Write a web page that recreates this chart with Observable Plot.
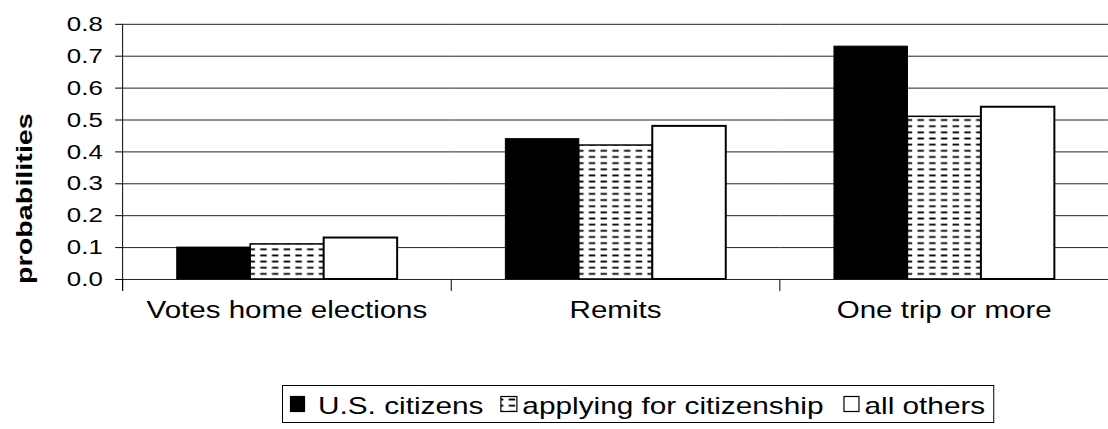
<!DOCTYPE html>
<html><head><meta charset="utf-8">
<script src="https://cdn.jsdelivr.net/npm/d3@7"></script>
<script src="https://cdn.jsdelivr.net/npm/@observablehq/plot@0.6"></script>
<style>
body{margin:0;background:#fff;width:1108px;height:429px;overflow:hidden;position:relative;font-family:"Liberation Sans",Arial,sans-serif;}
#chart{position:absolute;left:0;top:0;width:1108px;height:360px;overflow:hidden}
#legend{position:absolute;left:282px;top:384px}
</style></head><body>
<div id="chart"></div><div id="legend"></div>
<script>
const categories = ["Votes home elections", "Remits", "One trip or more"];
const series = ["U.S. citizens", "applying for citizenship", "all others"];
const usCitizens = [0.10, 0.44, 0.73];
const applying = [0.11, 0.42, 0.51];
const allOthers = [0.13, 0.48, 0.54];
const yTicks = [0, 0.1, 0.2, 0.3, 0.4, 0.5, 0.6, 0.7, 0.8];
const yLabel = "probabilities";

const values = [usCitizens, applying, allOthers];
const rows = categories.flatMap((c, i) => series.map((s, j) => ({category: c, series: s, value: values[j][i]})));
const fills = ["black", "url(#dashes)", "white"];
const strokeWidths = [1, 1.5, 2];
const STRETCH = 1.24;

const plot = Plot.plot({
  width: 1116, height: 360,
  marginLeft: 123, marginRight: 0, marginTop: 24, marginBottom: 79,
  style: {fontFamily: "Liberation Sans, Arial, sans-serif", fontSize: "21px", color: "black", background: "white"},
  fx: {domain: categories, padding: 0, label: null},
  x: {domain: series, paddingInner: 0, paddingOuter: 0.727, axis: null},
  y: {domain: [0, 0.8], label: null},
  marks: [
    Plot.ruleY(yTicks, {stroke: "#222", strokeWidth: 1}),
    ...series.map((s, j) => Plot.barY(rows.filter(d => d.series === s), {
      fx: "category", x: "series", y: "value",
      fill: fills[j], stroke: "black", strokeWidth: strokeWidths[j]
    })),
    Plot.axisY({ticks: yTicks, tickFormat: d3.format(".1f"), tickSize: 7, tickPadding: 13, fontSize: 21, fontWeight: "normal", label: null}),
    Plot.axisFx({anchor: "bottom", tickSize: 0, tickPadding: 22, fontSize: 24, label: null}),
    Plot.frame({anchor: "left", facetAnchor: "left", insetBottom: -11, stroke: "black"}),
    Plot.frame({anchor: "left", insetTop: 257, insetBottom: -11, stroke: "black"})
  ]
});
document.getElementById("chart").appendChild(plot);

const svg = d3.select(plot);
const defs = svg.insert("defs", ":first-child");
function addPattern(defs, id) {
  const p = defs.append("pattern").attr("id", id).attr("patternUnits", "userSpaceOnUse")
    .attr("width", 11.8).attr("height", 6.2);
  p.append("rect").attr("width", 11.8).attr("height", 6.2).attr("fill", "white");
  p.append("rect").attr("x", 2.5).attr("y", 2.2).attr("width", 6.5).attr("height", 1.8).attr("fill", "black");
}
addPattern(defs, "dashes");

plot.querySelectorAll("text").forEach(t => {
  const len = t.getComputedTextLength();
  t.setAttribute("textLength", len * STRETCH);
  t.setAttribute("lengthAdjust", "spacingAndGlyphs");
});

// y-axis title
svg.append("text")
  .attr("transform", "translate(25,286) rotate(-90)")
  .attr("text-anchor", "start")
  .attr("dominant-baseline", "central")
  .attr("font-size", 22).attr("font-weight", "bold").attr("fill", "black")
  .attr("textLength", 172).attr("lengthAdjust", "spacingAndGlyphs")
  .text(yLabel);

// Legend
const lg = d3.select("#legend").append("svg").attr("width", 720).attr("height", 44)
  .style("font-family", "Liberation Sans, Arial, sans-serif");
addPattern(lg.append("defs"), "dashes2");
const box = lg.append("rect").attr("x", 0.5).attr("y", 1.5).attr("height", 37).attr("fill", "white").attr("stroke", "black").attr("stroke-width", 1);
const swatch = [
  {fill: "black", w: 14, gapBefore: 8, gapAfter: 14},
  {fill: "url(#dashes2)", w: 16, gapBefore: 17, gapAfter: 6},
  {fill: "white", w: 15, gapBefore: 20, gapAfter: 6}
];
let cx = 0;
series.forEach((s, j) => {
  cx += swatch[j].gapBefore;
  lg.append("rect").attr("x", cx + 0.5).attr("y", 12.5).attr("width", swatch[j].w).attr("height", 15)
    .attr("fill", swatch[j].fill).attr("stroke", "black").attr("stroke-width", 1.2);
  cx += swatch[j].w + swatch[j].gapAfter;
  const t = lg.append("text").attr("x", cx).attr("y", 30).attr("font-size", 24).attr("fill", "black").text(s);
  const len = t.node().getComputedTextLength() * STRETCH;
  t.attr("textLength", len).attr("lengthAdjust", "spacingAndGlyphs");
  cx += len;
});
box.attr("width", cx + 8);
</script>
</body></html>
